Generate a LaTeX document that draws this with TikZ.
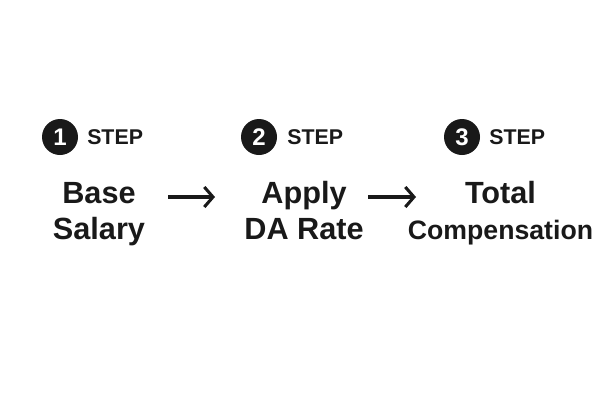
\documentclass[tikz,border=0pt]{standalone}
\usepackage{fontspec}
\setmainfont{Liberation Sans}
\usetikzlibrary{calc, arrows.meta}
\tikzset{>=latex}
\tikzset{
  badge/.style={circle,fill=black!90,text=white,minimum size=27pt,inner sep=0pt,font=\fontsize{18}{18}\selectfont\bfseries},
  steplabel/.style={anchor=west,inner sep=0pt,font=\fontsize{16}{16}\selectfont\bfseries,text=black!90},
  title/.style={align=center,anchor=base,inner sep=0pt,font=\fontsize{23}{27}\selectfont\bfseries,text=black!90},
  flow/.style={->,line width=2.3pt,>={Straight Barb[length=6.5pt,width=15pt,line width=2.3pt]},black!90}
}
\begin{document}
\begin{tikzpicture}[x=0.75pt,y=-0.75pt]
\useasboundingbox (0,0) rectangle (602,401);
\node[badge] (one) at (60,137) {1};
\node[steplabel] (steponelabel) at (87,137) {STEP};
\node[badge] (two) at (259,137) {2};
\node[steplabel] (steptwolabel) at (287,137) {STEP};
\node[badge] (three) at (462,137) {3};
\node[steplabel] (stepthreelabel) at (489,137) {STEP};
\node[title] (base) at (99,239) {Base\\Salary};
\node[title] (apply) at (304,239) {Apply\\DA Rate};
\node[title] (total) at (500.5,239) {Total\\{\fontsize{20}{27}\selectfont Compensation}};
\coordinate (a) at (168,197);
\coordinate (b) at (215,197);
\coordinate (c) at (368,197);
\coordinate (d) at (416,197);
\draw[flow] (a) -- (b);
\draw[flow] (c) -- (d);
\end{tikzpicture}
\end{document}
